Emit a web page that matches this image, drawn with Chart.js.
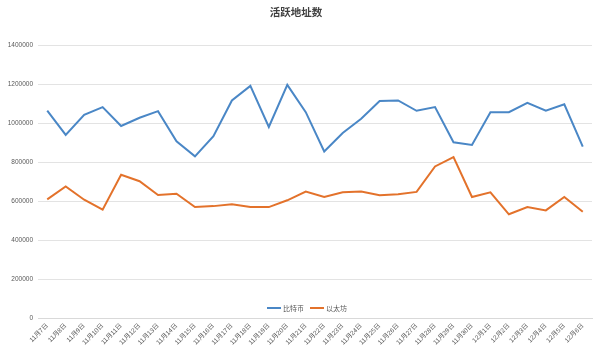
<!DOCTYPE html>
<html>
<head>
<meta charset="utf-8">
<script src="https://cdn.jsdelivr.net/npm/chart.js@4"></script>
<style>
    html, body { margin: 0; padding: 0; background: #ffffff; }
    #wrap { width: 600px; height: 354px; }
</style>
</head>
<body>
<div id="wrap"><canvas id="chart"></canvas></div>
<script>
const days = [
    '11月7日', '11月8日', '11月9日', '11月10日', '11月11日', '11月12日', '11月13日', '11月14日',
    '11月15日', '11月16日', '11月17日', '11月18日', '11月19日', '11月20日', '11月21日', '11月22日',
    '11月23日', '11月24日', '11月25日', '11月26日', '11月27日', '11月28日', '11月29日', '11月30日',
    '12月1日', '12月2日', '12月3日', '12月4日', '12月5日', '12月6日'
];
const btc = [
    1066000, 941000, 1044000, 1084000, 987000, 1029000, 1063000, 908000,
    831000, 934000, 1118000, 1193000, 982000, 1198000, 1058000, 856000,
    951000, 1024000, 1115000, 1118000, 1065000, 1084000, 903000, 889000,
    1058000, 1058000, 1106000, 1065000, 1098000, 881000
];
const eth = [
    610000, 676000, 608000, 557000, 736000, 703000, 632000, 639000,
    570000, 575000, 584000, 570000, 570000, 605000, 650000, 622000,
    646000, 650000, 631000, 636000, 648000, 779000, 827000, 622000,
    646000, 533000, 570000, 553000, 622000, 546000
];
const seriesNames = ['比特币', '以太坊'];
const seriesColors = ['#4a87c6', '#e3722b'];

const textGray = '#595959';
const baseFont = '"Liberation Sans", "Noto Sans CJK SC", sans-serif';

// legend sits inside the plot, just above the x axis
const innerLegend = {
    id: 'innerLegend',
    afterDraw(chart) {
        const ctx = chart.ctx;
        const area = chart.chartArea;
        const y = area.bottom - 10;
        ctx.save();
        ctx.font = '7px "Noto Sans CJK SC", sans-serif';
        ctx.textBaseline = 'middle';
        const lineW = 14, gap = 2, itemGap = 6;
        const widths = seriesNames.map(n => lineW + gap + ctx.measureText(n).width);
        const total = widths.reduce((a, b) => a + b, 0) + itemGap;
        let x = (area.left + area.right) / 2 - total / 2 - 8;
        seriesNames.forEach((name, i) => {
            ctx.strokeStyle = seriesColors[i];
            ctx.lineWidth = 2;
            ctx.beginPath();
            ctx.moveTo(x, y);
            ctx.lineTo(x + lineW, y);
            ctx.stroke();
            ctx.fillStyle = textGray;
            ctx.fillText(name, x + lineW + gap, y);
            x += widths[i] + itemGap;
        });
        ctx.restore();
    }
};

new Chart(document.getElementById('chart'), {
    type: 'line',
    data: {
        labels: days,
        datasets: [
            {
                label: seriesNames[0],
                data: btc,
                borderColor: seriesColors[0],
                backgroundColor: seriesColors[0],
                borderWidth: 2,
                pointRadius: 0,
                tension: 0
            },
            {
                label: seriesNames[1],
                data: eth,
                borderColor: seriesColors[1],
                backgroundColor: seriesColors[1],
                borderWidth: 2,
                pointRadius: 0,
                tension: 0
            }
        ]
    },
    options: {
        responsive: true,
        maintainAspectRatio: false,
        animation: false,
        layout: {
            padding: { left: 0, right: 8, top: 0, bottom: 0 }
        },
        plugins: {
            legend: { display: false },
            tooltip: { enabled: false },
            title: {
                display: true,
                text: '活跃地址数',
                color: '#404040',
                font: { family: '"Noto Sans CJK SC", sans-serif', size: 10.5, weight: 'bold' },
                padding: { top: 6, bottom: 27 }
            }
        },
        scales: {
            x: {
                offset: true,
                grid: { display: false, drawTicks: true, tickLength: 3 },
                border: { display: true, color: '#d9d9d9' },
                ticks: {
                    color: textGray,
                    font: { family: baseFont, size: 6.5 },
                    minRotation: 45,
                    maxRotation: 45,
                    autoSkip: false,
                    padding: 1
                },
                afterFit(scale) { scale.height = 36; }
            },
            y: {
                min: 0,
                max: 1400000,
                ticks: {
                    stepSize: 200000,
                    color: textGray,
                    font: { family: baseFont, size: 6.5 },
                    padding: 5,
                    callback: v => String(v)
                },
                grid: { color: '#e3e3e3', drawTicks: false },
                border: { display: false },
                afterFit(scale) { scale.width = 38; }
            }
        }
    },
    plugins: [innerLegend]
});
</script>
</body>
</html>
